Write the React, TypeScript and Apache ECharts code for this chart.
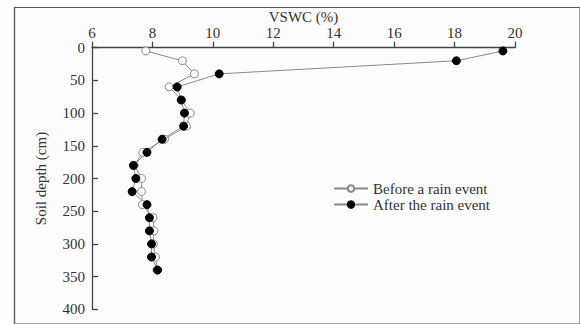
import React, { useEffect, useRef } from "react";
import * as echarts from "echarts";

const depths = [5, 20, 40, 60, 80, 100, 120, 140, 160, 180, 200, 220, 240, 260, 280, 300, 320, 340];
const beforeVSWC = [7.78, 8.99, 9.39, 8.55, 8.97, 9.25, 9.13, 8.4, 7.68, 7.4, 7.64, 7.64, 7.67, 8.02, 8.05, 8.03, 8.1, 8.15];
const afterVSWC = [19.6, 18.06, 10.21, 8.82, 8.95, 9.06, 9.03, 8.32, 7.82, 7.37, 7.45, 7.33, 7.82, 7.9, 7.9, 7.97, 7.97, 8.17];
const seriesNames = ["Before a rain event", "After the rain event"];
const xTitle = "VSWC (%)";
const yTitle = "Soil depth (cm)";

const FONT = "Liberation Serif";

export default function App() {
  const ref = useRef<HTMLDivElement>(null);
  useEffect(() => {
    if (!ref.current) return;
    const chart = echarts.init(ref.current, undefined, { renderer: "svg" });
    const lineColor = "#8a8a8a";
    const hiddenAxis = {
      type: "value",
      gridIndex: 1,
      min: 0,
      max: 1,
      show: false,
      silent: true,
    };
    chart.setOption({
      animation: false,
      backgroundColor: "#fdfdfd",
      textStyle: { fontFamily: FONT },
      grid: [
        { left: 92, top: 47.7, right: 65, bottom: 14.7, containLabel: false },
        {
          show: true,
          left: 14.5,
          top: 7.5,
          right: -20,
          bottom: -20,
          containLabel: false,
          borderColor: "#5a5a5a",
          borderWidth: 1.2,
          backgroundColor: "transparent",
          z: 10,
        },
      ],
      legend: {
        orient: "vertical",
        left: 328,
        top: 176,
        itemWidth: 34,
        itemHeight: 8,
        itemGap: 1,
        textStyle: { fontFamily: FONT, fontSize: 15, color: "#333" },
        data: seriesNames,
      },
      xAxis: [
        {
          type: "value",
          gridIndex: 0,
          position: "top",
          min: 6,
          max: 20,
          interval: 2,
          name: xTitle,
          nameLocation: "middle",
          nameGap: 23,
          nameMoveOverlap: false,
          nameTextStyle: { fontFamily: FONT, fontSize: 15, color: "#333" },
          axisLine: { show: true, onZero: false, lineStyle: { color: "#444", width: 1.3 } },
          axisTick: { show: true, inside: false, length: 6, lineStyle: { color: "#444", width: 1.3 } },
          axisLabel: { fontFamily: FONT, fontSize: 15, color: "#333", margin: 7 },
          splitLine: { show: false },
        },
        hiddenAxis,
      ],
      yAxis: [
        {
          type: "value",
          gridIndex: 0,
          inverse: true,
          min: 0,
          max: 400,
          interval: 50,
          name: yTitle,
          nameLocation: "middle",
          nameGap: 44,
          nameRotate: 90,
          nameMoveOverlap: false,
          nameTextStyle: { fontFamily: FONT, fontSize: 15, color: "#333" },
          axisLine: { show: true, onZero: false, lineStyle: { color: "#444", width: 1.3 } },
          axisTick: { show: true, inside: true, length: 6, lineStyle: { color: "#444", width: 1.3 } },
          axisLabel: { fontFamily: FONT, fontSize: 15, color: "#333", margin: 7 },
          splitLine: { show: false },
        },
        hiddenAxis,
      ],
      graphic: [
        {
          type: "rect",
          z: 100,
          silent: true,
          shape: { x: 14.5, y: 7.5, width: 600, height: 400 },
          style: { fill: "none", stroke: "#5a5a5a", lineWidth: 1.2 },
        },
      ],
      series: [
        {
          name: seriesNames[0],
          type: "line",
          xAxisIndex: 0,
          yAxisIndex: 0,
          data: depths.map((d, i) => [beforeVSWC[i], d]),
          symbol: "circle",
          symbolSize: 8,
          lineStyle: { color: lineColor, width: 1 },
          itemStyle: { color: "#ffffff", borderColor: "#888", borderWidth: 1 },
        },
        {
          name: seriesNames[1],
          type: "line",
          xAxisIndex: 0,
          yAxisIndex: 0,
          data: depths.map((d, i) => [afterVSWC[i], d]),
          symbol: "circle",
          symbolSize: 8,
          lineStyle: { color: lineColor, width: 1 },
          itemStyle: { color: "#000000", borderColor: "#000", borderWidth: 1 },
        },
      ],
    });
    return () => chart.dispose();
  }, []);
  return (
    <div style={{ position: "fixed", left: 0, top: 0, width: 580, height: 324 }}>
      <div ref={ref} style={{ position: "absolute", left: 0, top: 0, width: 580, height: 324 }} />
    </div>
  );
}
